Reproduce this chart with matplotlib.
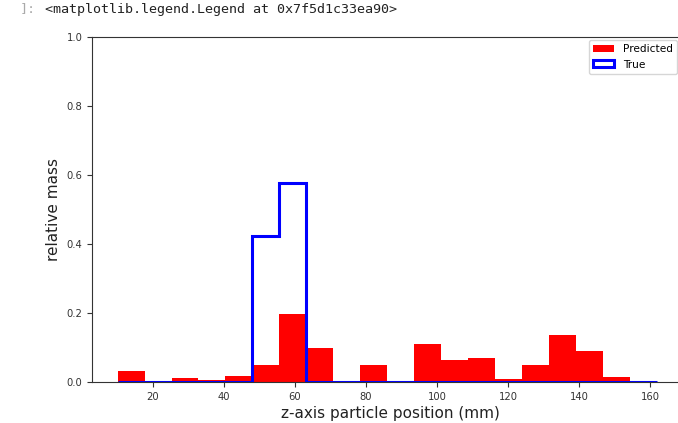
import numpy as np
import matplotlib
matplotlib.use("Agg")
import matplotlib.pyplot as plt

# histogram bins (mm) and relative mass per bin
bin_edges = np.linspace(10, 162, 21)
predicted_mass = [0.032, 0.0, 0.012, 0.007, 0.018, 0.048, 0.197, 0.098, 0.0, 0.048,
                  0.0, 0.111, 0.065, 0.070, 0.008, 0.048, 0.135, 0.090, 0.015, 0.0]
true_mass = [0.0, 0.0, 0.0, 0.0, 0.0, 0.424, 0.576, 0.0, 0.0, 0.0,
             0.0, 0.0, 0.0, 0.0, 0.0, 0.0, 0.0, 0.0, 0.0, 0.0]

centers = (bin_edges[:-1] + bin_edges[1:]) / 2

fig = plt.figure(figsize=(6.78, 4.23), dpi=100)
# the right edge of the axes is cropped off in the notebook screenshot
ax = fig.add_axes([92 / 678, 41 / 423, 596 / 678, 345 / 423])

# notebook output line above the figure
fig.text(20 / 678, 1 - 9 / 423, "]:", color="#aaaaaa", family="DejaVu Sans Mono",
         fontsize=9.65, va="center")
fig.text(45 / 678, 1 - 9 / 423, "<matplotlib.legend.Legend at 0x7f5d1c33ea90>",
         color="#222222", family="DejaVu Sans Mono", fontsize=9.65, va="center")

ax.hist(centers, bins=bin_edges, weights=predicted_mass, color="red", label="Predicted")
ax.hist(centers, bins=bin_edges, weights=true_mass, histtype="step", color="blue",
        linewidth=2.2, label="True")

ax.set_xlim(2.8, 170.7)
ax.set_ylim(0, 1.0)
ax.set_xlabel("z-axis particle position (mm)", fontsize=11, color="#222222", labelpad=3)
ax.set_ylabel("relative mass", fontsize=11, color="#222222")
ax.tick_params(labelsize=7.2, colors="#333333")
for sp in ax.spines.values():
    sp.set_color("#333333")
    sp.set_linewidth(0.8)
ax.spines["right"].set_visible(False)
ax.legend(loc="upper right", fontsize=7.6, bbox_to_anchor=(677 / 678, 1 - 40 / 423),
          bbox_transform=fig.transFigure, borderaxespad=0)

fig.savefig("out.png", dpi=100)
